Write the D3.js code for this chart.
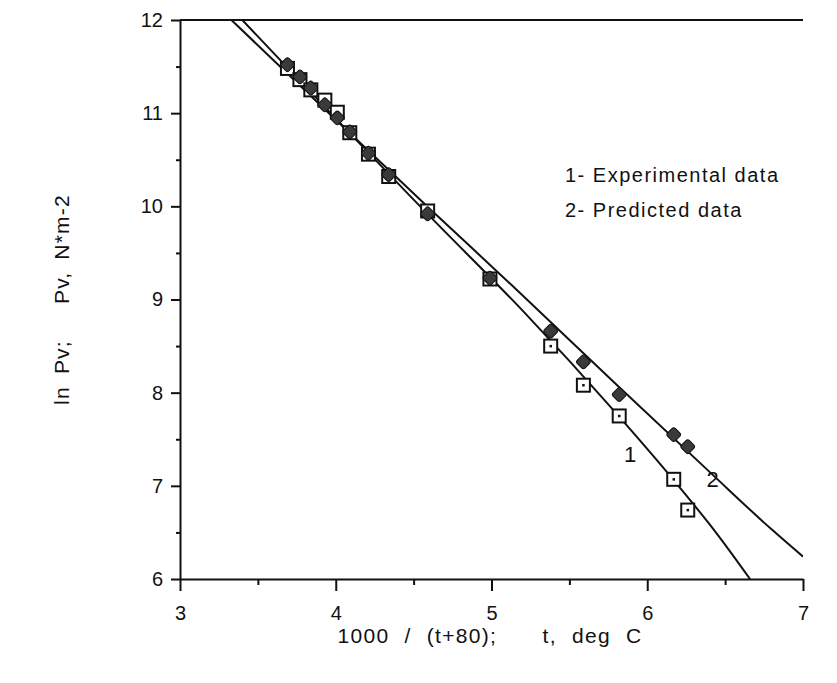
<!DOCTYPE html>
<html>
<head>
<meta charset="utf-8">
<script src="https://cdn.jsdelivr.net/npm/d3@7/dist/d3.min.js"></script>
<style>
body { margin: 0; background: #fff; }
svg text { font-family: "Liberation Sans", Arial, sans-serif; fill: #111; }
</style>
</head>
<body>
<div id="chart"></div>
<script>

// 1000/(t+80) for each measured temperature
var temps = [3.69, 3.77, 3.84, 3.93, 4.01, 4.09, 4.21, 4.34, 4.59, 4.99, 5.38, 5.59, 5.82, 6.17, 6.26];
// ln Pv, series 1 (open squares) and series 2 (filled marks)
var experimental = [11.48, 11.36, 11.25, 11.14, 11.01, 10.79, 10.56, 10.32, 9.95, 9.22, 8.50, 8.08, 7.75, 7.07, 6.74];
var predicted    = [11.52, 11.39, 11.27, 11.09, 10.95, 10.80, 10.57, 10.34, 9.92, 9.23, 8.66, 8.33, 7.98, 7.55, 7.42];

// fitted curves
var curve1_x = [3.40, 4.60, 5.20, 5.80, 6.20, 6.45, 6.66];
var curve1_y = [12.0, 9.90, 8.88, 7.78, 7.00, 6.48, 6.00];
var curve2_x = [3.33, 4.00, 4.60, 5.19, 5.80, 6.40, 6.80, 7.00];
var curve2_y = [12.0, 10.93, 9.98, 9.06, 8.09, 7.15, 6.53, 6.24];

var x_ticks = [3, 4, 5, 6, 7];
var x_minor = [3.5, 4.5, 5.5, 6.5];
var y_ticks = [6, 7, 8, 9, 10, 11, 12];
var y_minor = [6.5, 7.5, 8.5, 9.5, 10.5, 11.5];

var legend_lines = ["1- Experimental data", "2- Predicted data"];
var x_title = "1000 / (t+80);   t, deg C";
var y_title = "ln Pv;   Pv, N*m-2";


var width = 837, height = 683;
var plot = {left: 180, right: 803, top: 20, bottom: 579};

var svg = d3.select("#chart").append("svg")
    .attr("width", width)
    .attr("height", height);

var x = d3.scaleLinear().domain([3, 7]).range([plot.left, plot.right]);
var y = d3.scaleLinear().domain([6, 12]).range([plot.bottom, plot.top]);

// clip so the fitted lines stop at the frame
svg.append("clipPath").attr("id", "plot")
    .append("rect")
    .attr("x", plot.left).attr("y", plot.top)
    .attr("width", plot.right - plot.left).attr("height", plot.bottom - plot.top);

// axes
svg.append("g")
    .attr("class", "x axis")
    .attr("transform", "translate(0," + plot.bottom + ")")
    .call(d3.axisBottom(x).tickValues(x_ticks).tickSize(12).tickSizeOuter(0).tickPadding(15)
        .tickFormat(d3.format("d")));
svg.append("g")
    .attr("transform", "translate(0," + plot.bottom + ")")
    .call(d3.axisBottom(x).tickValues(x_minor).tickSize(6).tickFormat(""))
    .select(".domain").remove();

svg.append("g")
    .attr("class", "y axis")
    .attr("transform", "translate(" + plot.left + ",0)")
    .call(d3.axisLeft(y).tickValues(y_ticks).tickSize(9).tickSizeOuter(0).tickPadding(8)
        .tickFormat(d3.format("d")));
svg.append("g")
    .attr("transform", "translate(" + plot.left + ",0)")
    .call(d3.axisLeft(y).tickValues(y_minor).tickSize(4).tickFormat(""))
    .select(".domain").remove();

svg.selectAll(".tick line").attr("stroke", "#111").attr("stroke-width", 2);
svg.selectAll(".domain").attr("stroke", "#111").attr("stroke-width", 2);
svg.selectAll(".tick text").attr("font-size", 20).attr("fill", "#111")
    .attr("font-family", "Liberation Sans, Arial, sans-serif");

// top frame line
svg.append("line")
    .attr("x1", x(3)).attr("x2", x(7))
    .attr("y1", y(12)).attr("y2", y(12))
    .attr("stroke", "#111").attr("stroke-width", 2);

// fitted lines
var line = d3.line()
    .x(function(d) { return x(d[0]); })
    .y(function(d) { return y(d[1]); })
    .curve(d3.curveMonotoneX);

var g = svg.append("g").attr("clip-path", "url(#plot)");
g.append("path")
    .datum(curve1_x.map(function(v, i) { return [v, curve1_y[i]]; }))
    .attr("d", line)
    .attr("fill", "none").attr("stroke", "#111").attr("stroke-width", 2);
g.append("path")
    .datum(curve2_x.map(function(v, i) { return [v, curve2_y[i]]; }))
    .attr("d", line)
    .attr("fill", "none").attr("stroke", "#111").attr("stroke-width", 2);

// experimental: open squares with a dot
var exp_pts = svg.selectAll(".exp")
    .data(temps.map(function(t, i) { return [t, experimental[i]]; }))
    .enter().append("g")
    .attr("class", "exp")
    .attr("transform", function(d) { return "translate(" + x(d[0]) + "," + y(d[1]) + ")"; });
exp_pts.append("rect")
    .attr("x", -6.5).attr("y", -6.5).attr("width", 13).attr("height", 13)
    .attr("fill", "#fff").attr("stroke", "#111").attr("stroke-width", 2);
exp_pts.append("rect")
    .attr("x", -1.2).attr("y", -1.2).attr("width", 2.5).attr("height", 2.5)
    .attr("fill", "#111");

// predicted: dark filled marks
svg.selectAll(".pred")
    .data(temps.map(function(t, i) { return [t, predicted[i]]; }))
    .enter().append("rect")
    .attr("class", "pred")
    .attr("x", -5.5).attr("y", -5.5).attr("width", 11).attr("height", 11)
    .attr("rx", 2.5)
    .attr("transform", function(d) { return "translate(" + x(d[0]) + "," + y(d[1]) + ") rotate(45)"; })
    .attr("fill", "#3a3a3a").attr("stroke", "#111").attr("stroke-width", 1);

// curve labels
svg.append("text").attr("x", x(5.89)).attr("y", y(7.34)).attr("dy", "0.35em")
    .attr("text-anchor", "middle").attr("font-size", 22).text("1");
svg.append("text").attr("x", x(6.42)).attr("y", y(7.07)).attr("dy", "0.35em")
    .attr("text-anchor", "middle").attr("font-size", 22).text("2");

// legend
svg.selectAll(".legend")
    .data(legend_lines)
    .enter().append("text")
    .attr("class", "legend")
    .attr("x", 565)
    .attr("y", function(d, i) { return 182 + i * 35; })
    .attr("font-size", 20)
    .attr("letter-spacing", 1.5)
    .text(function(d) { return d; });

// axis titles
svg.append("text")
    .attr("x", 490).attr("y", 643)
    .attr("text-anchor", "middle")
    .attr("font-size", 21)
    .attr("letter-spacing", 1.3)
    .style("white-space", "pre")
    .style("word-spacing", "8px")
    .text(x_title);

svg.append("text")
    .attr("transform", "translate(69," + ((plot.top + plot.bottom) / 2) + ") rotate(-90)")
    .attr("text-anchor", "middle")
    .attr("font-size", 21)
    .attr("letter-spacing", 1.2)
    .style("white-space", "pre")
    .style("word-spacing", "5px")
    .text(y_title);

</script>
</body>
</html>
